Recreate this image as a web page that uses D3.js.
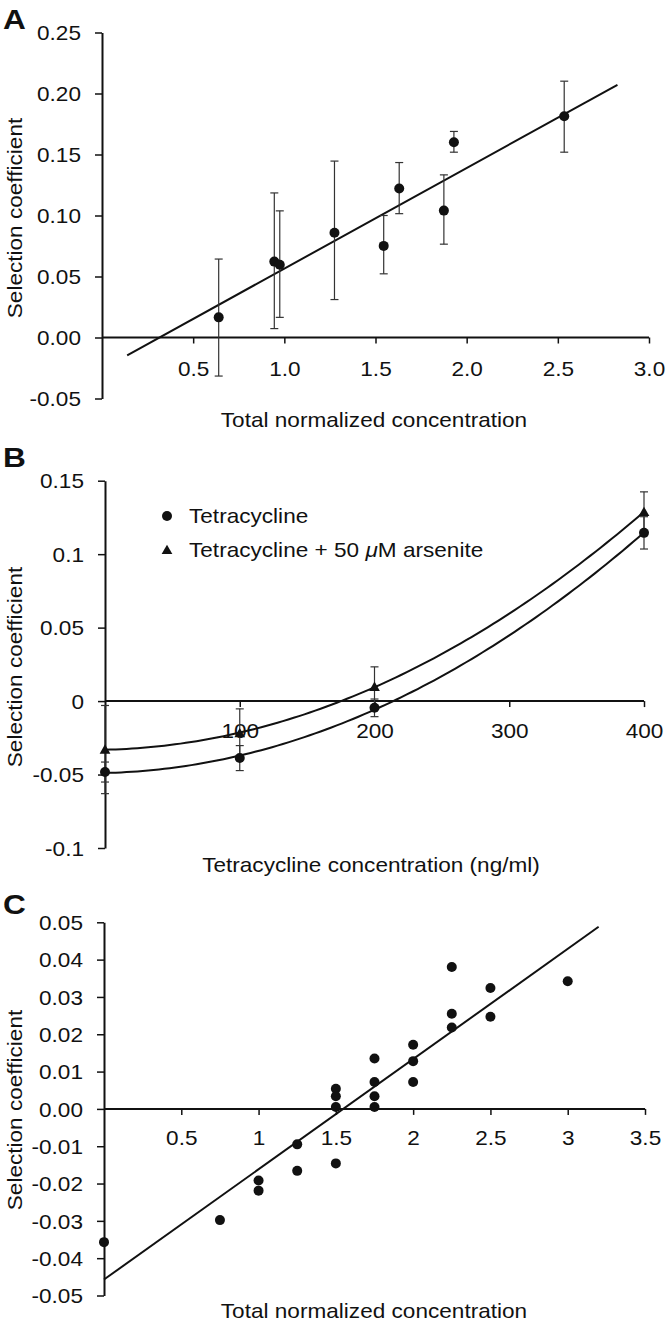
<!DOCTYPE html>
<html>
<head>
<meta charset="utf-8">
<script src="https://cdn.jsdelivr.net/npm/d3@7"></script>
<style>
  html, body { margin: 0; padding: 0; background: #fff; }
  svg { display: block; }
</style>
</head>
<body>
<svg id="chart" width="666" height="1327"></svg>
<script>
// ---------- Panel A data ----------
const aConc   = [0.64, 0.945, 0.975, 1.275, 1.545, 1.63, 1.875, 1.93, 2.535];
const aSel    = [0.0165, 0.0622, 0.0597, 0.0859, 0.0751, 0.1222, 0.1040, 0.160, 0.1814];
const aErrHi  = [0.0643, 0.1185, 0.1038, 0.1446, 0.1000, 0.1434, 0.1333, 0.1689, 0.2101];
const aErrLo  = [-0.0316, 0.0073, 0.0165, 0.0311, 0.0522, 0.1015, 0.0765, 0.1519, 0.1519];
const aXTicks = [0.5, 1.0, 1.5, 2.0, 2.5, 3.0];
const aYTicks = [-0.05, 0.00, 0.05, 0.10, 0.15, 0.20, 0.25];
const aFitRange = [0.138, 2.827];

// ---------- Panel B data ----------
const bConc      = [0, 100, 200, 400];
const bTet       = [-0.0483, -0.0388, -0.0046, 0.1145];
const bTetErr    = [0.0068, 0.0085, 0.006, 0.011];
const bTetAs     = [-0.033, -0.0218, 0.0097, 0.1288];
const bTetAsErr  = [0.030, 0.0165, 0.0136, 0.0136];
const bXTicks    = [100, 200, 300, 400];
const bYTicks    = [-0.1, -0.05, 0, 0.05, 0.1, 0.15];
const bSeriesNames = ["Tetracycline", "Tetracycline + 50 "];

// ---------- Panel C data ----------
const cConc = [0, 0.75, 1, 1, 1.25, 1.25, 1.5, 1.5, 1.5, 1.5, 1.75, 1.75, 1.75, 1.75,
               2, 2, 2, 2.25, 2.25, 2.25, 2.5, 2.5, 3];
const cSel  = [-0.0357, -0.0298, -0.0192, -0.0219, -0.0095, -0.0166, -0.0146, 0.0054, 0.0034, 0.0005,
               0.0135, 0.0072, 0.0034, 0.0005, 0.0172, 0.0128, 0.0072, 0.0380, 0.0255, 0.0218,
               0.0324, 0.0247, 0.0342];
const cXTicks = [0.5, 1, 1.5, 2, 2.5, 3, 3.5];
const cYTicks = [-0.05, -0.04, -0.03, -0.02, -0.01, 0.00, 0.01, 0.02, 0.03, 0.04, 0.05];
const cFitRange = [0, 3.2];

// ---------- helpers ----------
const FONT = "'Liberation Sans', Arial, Helvetica, sans-serif";
const FS = 20;
const SX = 1.13;
const INK = "#111";
const svg = d3.select("#chart");
const loc = d3.formatLocale({decimal: ".", thousands: ",", grouping: [3], currency: ["$", ""], minus: "-"});

function fitPoly(xs, ys, deg) {
  const n = deg + 1;
  const M = Array.from({length: n}, () => new Array(n + 1).fill(0));
  xs.forEach((x, k) => {
    for (let i = 0; i < n; i++) {
      for (let j = 0; j < n; j++) M[i][j] += Math.pow(x, i + j);
      M[i][n] += ys[k] * Math.pow(x, i);
    }
  });
  for (let i = 0; i < n; i++) {
    let p = i;
    for (let r = i + 1; r < n; r++) if (Math.abs(M[r][i]) > Math.abs(M[p][i])) p = r;
    [M[i], M[p]] = [M[p], M[i]];
    for (let r = 0; r < n; r++) {
      if (r === i) continue;
      const f = M[r][i] / M[i][i];
      for (let c = i; c <= n; c++) M[r][c] -= f * M[i][c];
    }
  }
  const coef = M.map((row, i) => row[n] / row[i]);
  return x => coef.reduce((s, c, i) => s + c * Math.pow(x, i), 0);
}

function label(g, txt, x, y, opts = {}) {
  const t = g.append("text")
    .attr("transform", `translate(${x},${y}) rotate(${opts.rot || 0}) scale(${SX},1)`)
    .attr("font-family", FONT)
    .attr("font-size", opts.size || FS)
    .attr("font-weight", opts.bold ? "bold" : "normal")
    .attr("text-anchor", opts.anchor || "start")
    .attr("fill", INK);
  if (txt !== null) t.text(txt);
  return t;
}

function drawAxes(g, x, y, xTicks, yTicks, xFmt, yFmt, xLabelOff) {
  const yAxis = d3.axisLeft(y).tickValues(yTicks).tickFormat(yFmt).tickSize(7).tickSizeOuter(0);
  const ya = g.append("g").attr("transform", `translate(${x(0)},0)`).call(yAxis);
  ya.select(".domain").attr("stroke", INK).attr("stroke-width", 2);
  ya.selectAll(".tick line").attr("stroke", INK).attr("stroke-width", 1.5);
  ya.selectAll(".tick text")
    .attr("x", null).attr("dy", "0.36em")
    .attr("transform", `translate(-21,0) scale(${SX},1)`)
    .attr("font-family", FONT).attr("font-size", FS).attr("fill", INK);

  const xAxis = d3.axisBottom(x).tickValues(xTicks).tickFormat(xFmt).tickSize(6).tickSizeOuter(0);
  const xa = g.append("g").attr("transform", `translate(0,${y(0)})`).call(xAxis);
  xa.select(".domain").attr("stroke", INK).attr("stroke-width", 2)
    .attr("d", `M${x(0)},0H${x(xTicks[xTicks.length - 1])}`);
  xa.selectAll(".tick line").attr("stroke", INK).attr("stroke-width", 1.5);
  xa.selectAll(".tick text")
    .attr("y", null).attr("dy", "0.36em")
    .attr("transform", `translate(0,${xLabelOff}) scale(${SX},1)`)
    .attr("font-family", FONT).attr("font-size", FS).attr("fill", INK);
}

function errBars(g, xs, lo, hi, x, y) {
  const eg = g.append("g").attr("stroke", "#333").attr("stroke-width", 1.2).attr("fill", "none");
  xs.forEach((v, i) => {
    const px = x(v);
    eg.append("line").attr("x1", px).attr("x2", px).attr("y1", y(lo[i])).attr("y2", y(hi[i]));
    eg.append("line").attr("x1", px - 4).attr("x2", px + 4).attr("y1", y(lo[i])).attr("y2", y(lo[i]));
    eg.append("line").attr("x1", px - 4).attr("x2", px + 4).attr("y1", y(hi[i])).attr("y2", y(hi[i]));
  });
}

// ================= Panel A =================
{
  const g = svg.append("g");
  const x = d3.scaleLinear().domain([0, 3]).range([102, 649]);
  const y = d3.scaleLinear().domain([-0.05, 0.25]).range([398.5, 32.5]);
  drawAxes(g, x, y, aXTicks, aYTicks, loc.format(".1f"), loc.format(".2f"), 31);
  const f = fitPoly(aConc, aSel, 1);
  g.append("line")
    .attr("x1", x(aFitRange[0])).attr("y1", y(f(aFitRange[0])))
    .attr("x2", x(aFitRange[1])).attr("y2", y(f(aFitRange[1])))
    .attr("stroke", INK).attr("stroke-width", 2);
  errBars(g, aConc, aErrLo, aErrHi, x, y);
  g.selectAll("circle.pt").data(aConc).enter().append("circle")
    .attr("cx", d => x(d)).attr("cy", (d, i) => y(aSel[i])).attr("r", 5).attr("fill", INK);
  label(g, "A", 3, 29, {bold: true, size: 28});
  label(g, "Selection coefficient", 21.5, 218, {rot: -90, anchor: "middle"});
  label(g, "Total normalized concentration", 374, 427, {anchor: "middle"});
}

// ================= Panel B =================
{
  const g = svg.append("g");
  const x = d3.scaleLinear().domain([0, 400]).range([105, 644]);
  const y = d3.scaleLinear().domain([-0.1, 0.15]).range([848, 480.7]);
  drawAxes(g, x, y, bXTicks, bYTicks, loc.format("d"), d => loc.format("")(+d.toFixed(2)), 30);
  const f1 = fitPoly(bConc, bTet, 2);
  const f2 = fitPoly(bConc, bTetAs, 2);
  const line = fn => d3.line().x(d => x(d)).y(d => y(fn(d)))(d3.range(0, 400.5, 4));
  g.append("path").attr("d", line(f1)).attr("fill", "none").attr("stroke", INK).attr("stroke-width", 2);
  g.append("path").attr("d", line(f2)).attr("fill", "none").attr("stroke", INK).attr("stroke-width", 2);
  errBars(g, bConc, bTet.map((v, i) => v - bTetErr[i]), bTet.map((v, i) => v + bTetErr[i]), x, y);
  errBars(g, bConc, bTetAs.map((v, i) => v - bTetAsErr[i]), bTetAs.map((v, i) => v + bTetAsErr[i]), x, y);
  const tri = d3.symbol().type(d3.symbolTriangle).size(50);
  g.selectAll("circle.pt").data(bConc).enter().append("circle")
    .attr("cx", d => x(d)).attr("cy", (d, i) => y(bTet[i])).attr("r", 5).attr("fill", INK);
  g.selectAll("path.tri").data(bConc).enter().append("path")
    .attr("d", tri).attr("transform", (d, i) => `translate(${x(d)},${y(bTetAs[i]) + 1})`).attr("fill", INK);
  // legend
  g.append("circle").attr("cx", 167).attr("cy", 516).attr("r", 5).attr("fill", INK);
  label(g, bSeriesNames[0], 189, 523);
  g.append("path").attr("d", tri).attr("transform", "translate(167,551)").attr("fill", INK);
  const t2 = label(g, null, 189, 557);
  t2.append("tspan").text(bSeriesNames[1]);
  t2.append("tspan").attr("font-style", "italic").text("\u03bc");
  t2.append("tspan").text("M arsenite");

  label(g, "B", 3, 467, {bold: true, size: 28});
  label(g, "Selection coefficient", 22, 667, {rot: -90, anchor: "middle"});
  label(g, "Tetracycline concentration (ng/ml)", 371, 872, {anchor: "middle"});
}

// ================= Panel C =================
{
  const g = svg.append("g");
  const x = d3.scaleLinear().domain([0, 3.5]).range([104, 645]);
  const y = d3.scaleLinear().domain([-0.05, 0.05]).range([1295.5, 922.3]);
  drawAxes(g, x, y, cXTicks, cYTicks, d => loc.format("")(d), loc.format(".2f"), 29);
  const f = fitPoly(cConc, cSel, 1);
  g.append("line")
    .attr("x1", x(cFitRange[0])).attr("y1", y(f(cFitRange[0])))
    .attr("x2", x(cFitRange[1])).attr("y2", y(f(cFitRange[1])))
    .attr("stroke", INK).attr("stroke-width", 2);
  g.selectAll("circle.pt").data(cConc).enter().append("circle")
    .attr("cx", d => x(d)).attr("cy", (d, i) => y(cSel[i])).attr("r", 5).attr("fill", INK);
  label(g, "C", 3, 914, {bold: true, size: 28});
  label(g, "Selection coefficient", 21.5, 1110, {rot: -90, anchor: "middle"});
  label(g, "Total normalized concentration", 374, 1318, {anchor: "middle"});
}
</script>
</body>
</html>
